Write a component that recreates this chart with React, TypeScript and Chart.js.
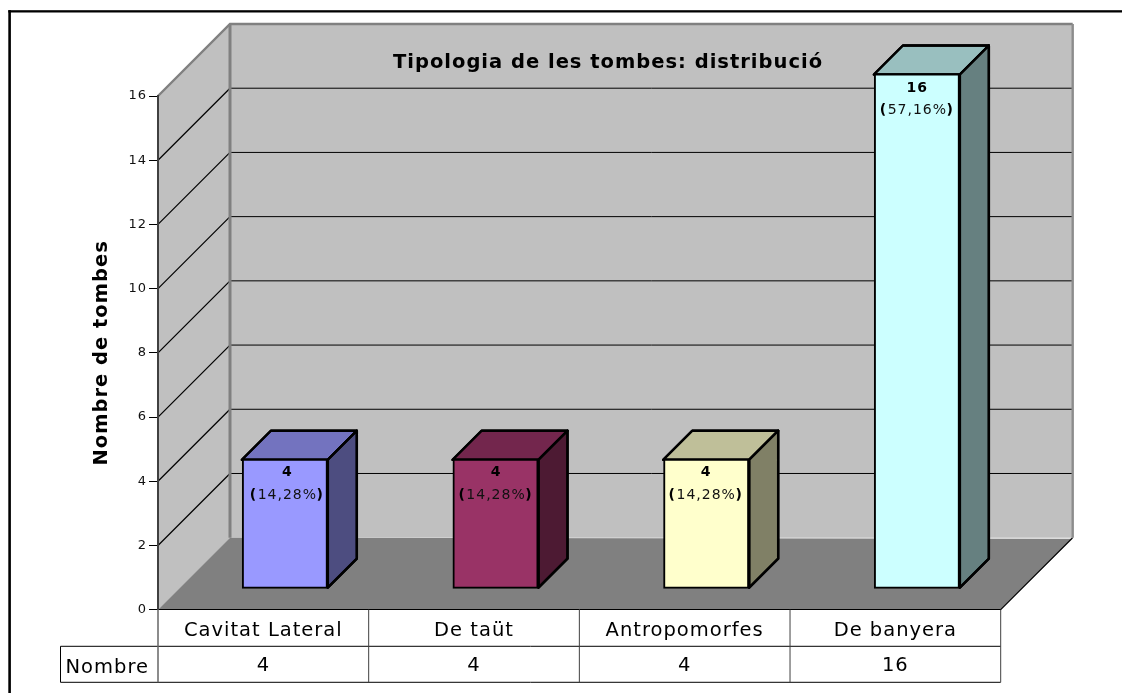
import React, { useEffect, useRef } from "react";
import { Chart, registerables } from "chart.js";

Chart.register(...registerables);

const categories = ["Cavitat Lateral", "De taüt", "Antropomorfes", "De banyera"];
const counts = [4, 4, 4, 16];
const percents = ["14,28%", "14,28%", "14,28%", "57,16%"];
const frontColors = ["#9999FF", "#993366", "#FFFFCC", "#CCFFFF"];
const topColors = ["#7373BF", "#73264D", "#BFBF99", "#99BFBF"];
const sideColors = ["#4D4D80", "#4D1A33", "#808066", "#668080"];
const labelNudge = [2.5, 0.5, 0, 0.5];
const yTicks = { min: 0, max: 16, step: 2 };
const chartTitle = "Tipologia de les tombes: distribució";
const yAxisTitle = "Nombre de tombes";
const rowLabel = "Nombre";

const FONT = '"DejaVu Sans", Verdana, sans-serif';
const WALL_DEPTH = 72;
const BAR_OFFSET = 21.5;
const BAR_DEPTH = 29;

function poly(ctx: CanvasRenderingContext2D, pts: number[][], fill?: string, stroke?: string, lw = 1) {
  ctx.beginPath();
  pts.forEach((p, i) => (i ? ctx.lineTo(p[0], p[1]) : ctx.moveTo(p[0], p[1])));
  if (fill) {
    ctx.closePath();
    ctx.fillStyle = fill;
    ctx.fill();
  }
  if (stroke) {
    ctx.strokeStyle = stroke;
    ctx.lineWidth = lw;
    ctx.stroke();
  }
}

const scene = {
  id: "scene3d",
  beforeDraw(chart: any) {
    const { ctx, chartArea: a, scales } = chart;
    const d = WALL_DEPTH;
    ctx.letterSpacing = "1px";
    ctx.save();
    ctx.fillStyle = "#fff";
    ctx.fillRect(0, 0, chart.width, chart.height);
    ctx.fillStyle = "#000";
    ctx.fillRect(8.3, 10.2, 2.6, chart.height);
    ctx.fillRect(8.3, 10.2, chart.width, 2.3);

    poly(ctx, [[a.left, a.top], [a.left + d, a.top - d], [a.left + d, a.bottom - d], [a.left, a.bottom]], "#C0C0C0");
    poly(ctx, [[a.left + d, a.top - d], [a.right + d, a.top - d], [a.right + d, a.bottom - d], [a.left + d, a.bottom - d]], "#C0C0C0");
    poly(ctx, [[a.left, a.bottom], [a.right, a.bottom], [a.right + d, a.bottom - d + 1], [a.left + d, a.bottom - d]], "#808080");

    const y = scales.y;
    y.ticks.forEach((t: any) => {
      if (t.value === yTicks.min || t.value === yTicks.max) return;
      const py = y.getPixelForValue(t.value);
      poly(ctx, [[a.left, py], [a.left + d, py - d]], undefined, "#000", 1.2);
      poly(ctx, [[a.left + d, py - d], [a.right + d, py - d]], undefined, "#000", 1);
    });
    poly(ctx, [[a.right, a.bottom], [a.right + d, a.bottom - d]], undefined, "#000", 1.2);
    poly(ctx, [[a.left, a.top], [a.left + d, a.top - d], [a.right + d, a.top - d]], undefined, "#808080", 2.4);
    poly(ctx, [[a.left + d, a.top - d], [a.left + d, a.bottom - d]], undefined, "#808080", 3);
    poly(ctx, [[a.right + d, a.top - d], [a.right + d, a.bottom - d]], undefined, "#8c8c8c", 2.4);
    ctx.restore();
  },
  beforeDatasetDraw(chart: any, args: any) {
    const { ctx } = chart;
    const meta = chart.getDatasetMeta(args.index);
    ctx.save();
    ctx.translate(BAR_OFFSET, -BAR_OFFSET);
    const b = BAR_DEPTH;
    ctx.lineJoin = "round";
    meta.data.forEach((el: any, i: number) => {
      const { x, y, base, width } = el.getProps(["x", "y", "base", "width"], true);
      const l = x - width / 2 - 1;
      const r = x + width / 2 + 1;
      const top = y;
      const bot = base;
      poly(ctx, [[l, top], [l + b, top - b], [r + b, top - b], [r, top]], topColors[i], "#000", 2.4);
      ctx.stroke();
      poly(ctx, [[r, top], [r + b, top - b], [r + b, bot - b], [r, bot]], sideColors[i], "#000", 2.4);
      ctx.closePath();
      ctx.stroke();
    });
  },
  afterDatasetDraw(chart: any, args: any) {
    const { ctx } = chart;
    const meta = chart.getDatasetMeta(args.index);
    ctx.textAlign = "center";
    ctx.textBaseline = "middle";
    ctx.fillStyle = "#000";
    meta.data.forEach((el: any, i: number) => {
      const p = el.getProps(["x", "y"], true);
      const x = p.x + labelNudge[i];
      const y = p.y;
      ctx.font = `bold 14px ${FONT}`;
      ctx.fillText(String(counts[i]), x, y + 13 + (counts[i] > 9 ? 1 : 0));
      const txt = percents[i];
      ctx.font = `14px ${FONT}`;
      const w = ctx.measureText(txt).width;
      ctx.fillStyle = "#111";
      ctx.fillText(txt, x, y + 35.5);
      ctx.fillStyle = "#000";
      ctx.font = `bold 14px ${FONT}`;
      ctx.textAlign = "right";
      ctx.fillText("(", x - w / 2 - 0.5, y + 35.5);
      ctx.textAlign = "left";
      ctx.fillText(")", x + w / 2 - 0.5, y + 35.5);
      ctx.textAlign = "center";
    });
    ctx.restore();
  },
  afterDraw(chart: any) {
    const { ctx, chartArea: a, scales } = chart;
    ctx.save();
    const x = scales.x;
    const cell = (a.right - a.left) / categories.length;
    const rowMid = a.bottom + 36.6;
    const rowEnd = a.bottom + 72.6;
    const labelLeft = 60.5;
    // data table lines
    poly(ctx, [[labelLeft, rowMid], [a.right, rowMid]], undefined, "#000", 1);
    poly(ctx, [[labelLeft, rowEnd], [a.right, rowEnd]], undefined, "#000", 1);
    poly(ctx, [[labelLeft, rowMid], [labelLeft, rowEnd]], undefined, "#000", 1);
    categories.forEach((_, i) => {
      const px = x.getPixelForValue(i) + cell / 2;
      poly(ctx, [[px, a.bottom], [px, rowEnd]], undefined, "#404040", 1);
    });
    poly(ctx, [[a.left, a.bottom], [a.left, rowEnd]], undefined, "#666", 1.5);
    // data table text
    ctx.textBaseline = "middle";
    ctx.textAlign = "center";
    ctx.fillStyle = "#000";
    ctx.font = `19.5px ${FONT}`;
    counts.forEach((v, i) => ctx.fillText(String(v), x.getPixelForValue(i), a.bottom + 56));
    ctx.fillText(rowLabel, (labelLeft + a.left) / 2 - 2, a.bottom + 58);
    // chart title
    ctx.font = `bold 19.5px ${FONT}`;
    ctx.fillText(chartTitle, 608, 62.5);
    ctx.restore();
  },
};

export default function App() {
  const ref = useRef<HTMLCanvasElement>(null);
  useEffect(() => {
    const chart = new Chart(ref.current as HTMLCanvasElement, {
      type: "bar",
      data: {
        labels: categories,
        datasets: [
          {
            label: rowLabel,
            data: counts,
            backgroundColor: frontColors,
            borderColor: "#000",
            borderWidth: 2,
            borderSkipped: false,
            inflateAmount: 1,
            barPercentage: 84 / 210.7,
            categoryPercentage: 1,
            clip: false,
          } as any,
        ],
      },
      plugins: [scene as any],
      options: {
        animation: false,
        responsive: false,
        devicePixelRatio: 1,
        layout: { padding: { left: 90, top: 96, right: 121.3, bottom: 10.7 } },
        plugins: { legend: { display: false }, tooltip: { enabled: false } },
        scales: {
          x: {
            type: "category",
            afterFit(s: any) {
              s.height = 72.6;
            },
            grid: { drawOnChartArea: false, drawTicks: false },
            border: { color: "#000", width: 1 },
            ticks: { color: "#000", padding: 9.5, font: { family: FONT, size: 19.5 }, maxRotation: 0 },
          },
          y: {
            type: "linear",
            min: yTicks.min,
            max: yTicks.max,
            afterFit(s: any) {
              s.width = 68;
            },
            grid: { drawOnChartArea: false, drawTicks: true, tickLength: 9, tickColor: "#000", tickWidth: 1 },
            border: { color: "#404040", width: 2 },
            title: { display: true, text: yAxisTitle, color: "#000", font: { family: FONT, size: 19.5, weight: "bold" }, padding: 0 },
            ticks: { stepSize: yTicks.step, color: "#111", padding: 2, font: { family: FONT, size: 13 } },
          },
        },
      },
    });
    return () => chart.destroy();
  }, []);
  return (
    <div style={{ position: "absolute", left: 0, top: 0, width: 1122, height: 693 }}>
      <canvas ref={ref} width={1122} height={693} style={{ display: "block" }} />
    </div>
  );
}
